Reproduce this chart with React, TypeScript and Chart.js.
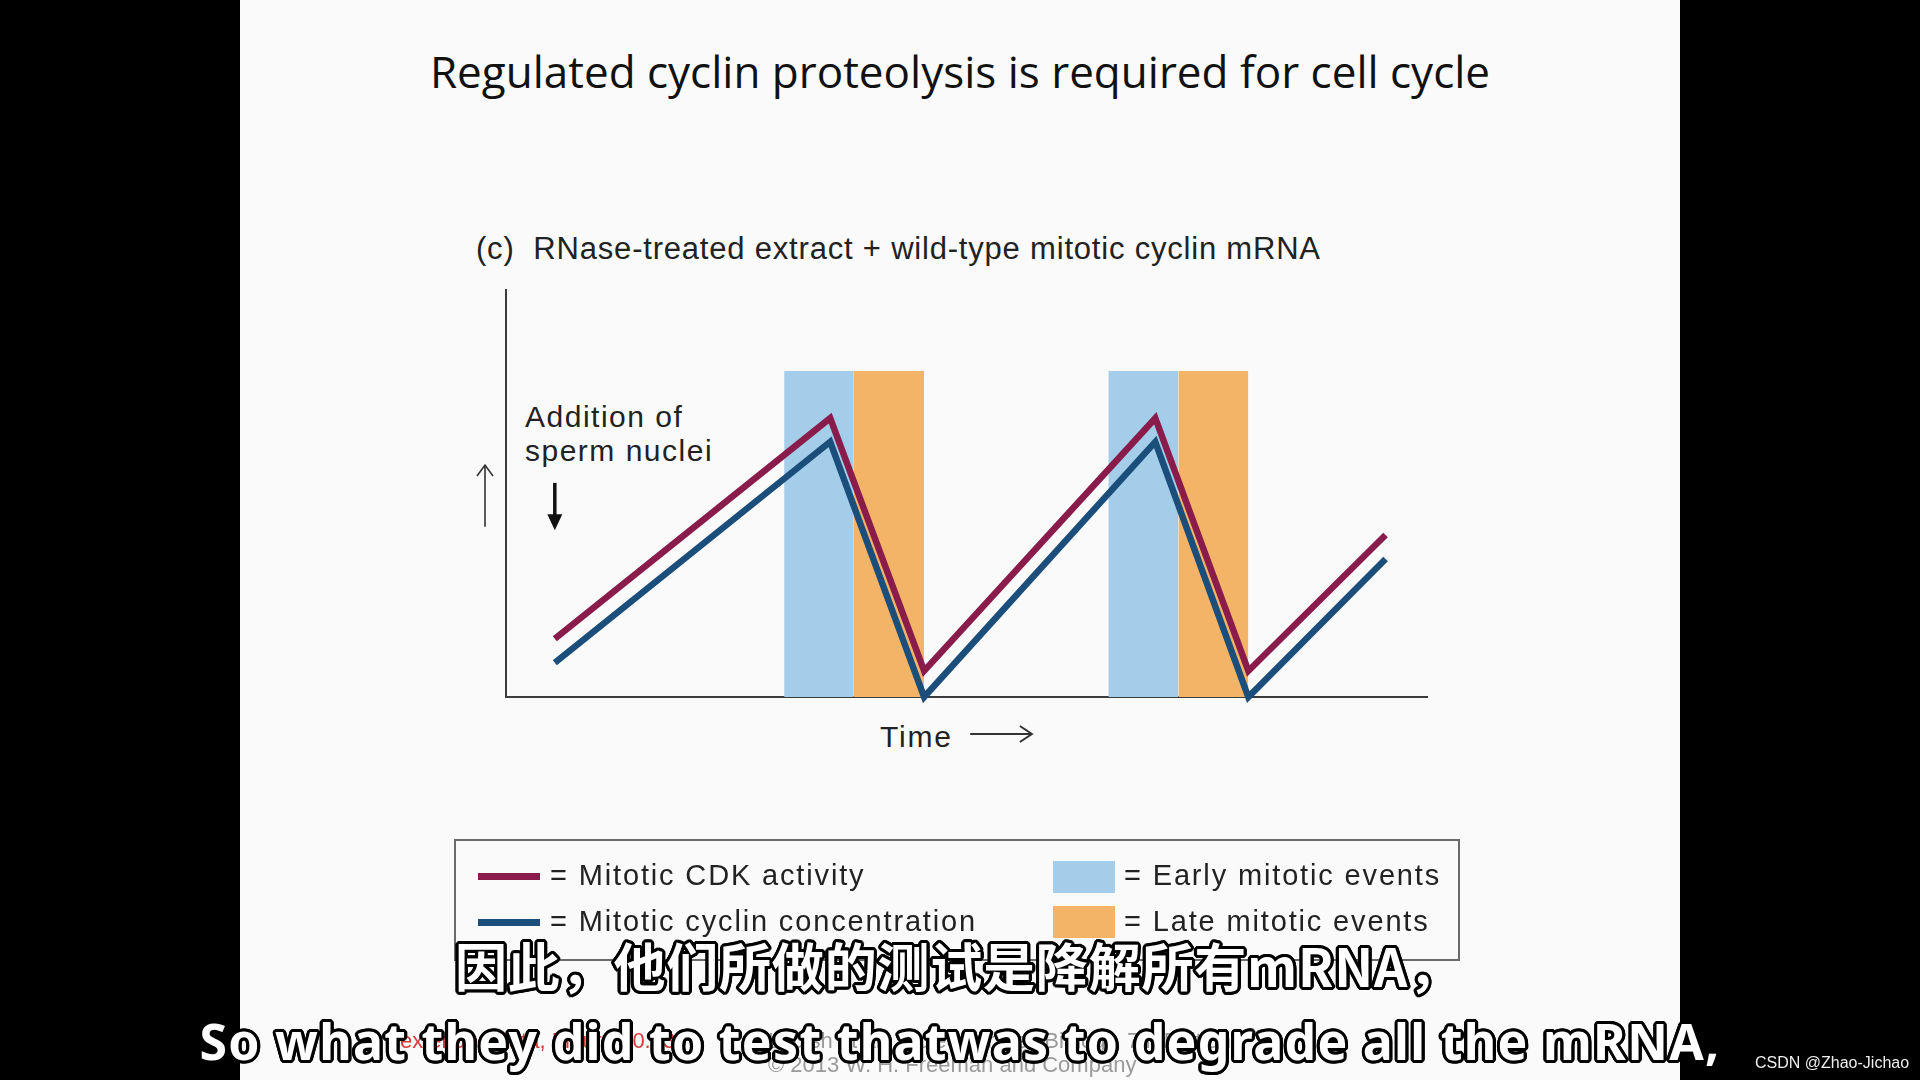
import React, { useEffect, useRef } from "react";
import { Chart, registerables } from "chart.js";

Chart.register(...registerables);

// ---- data ----
const timePoints = [5.3, 35.2, 45.4, 70.5, 80.6, 95.5];
const cdkActivity = [14.3, 68.5, 6.4, 68.5, 6.4, 39.8];
const cyclinConcentration = [8.4, 62.7, 0, 62.7, 0, 33.9];
const earlyMitoticEvents = [
  [30.2, 37.7],
  [65.4, 73.0],
];
const lateMitoticEvents = [
  [37.7, 45.4],
  [73.0, 80.6],
];
const eventLevel = 80.1;
const spermAdditionTime = 5.3;
const spermArrowRange = [52.6, 41.0];
const axisArrowRange = [41.8, 57.0];

const legendLines = ["= Mitotic CDK activity", "= Mitotic cyclin concentration"];
const legendBoxes = ["= Early mitotic events", "= Late mitotic events"];

const RED = "#8a1c4c";
const BLUE = "#1b4e7a";
const LIGHT_BLUE = "#a3cde9";
const ORANGE = "#f4b468";
const AXIS = "#3c3c3c";

const arrowPlugin = {
  id: "annotationArrows",
  afterDraw(chart: any) {
    const { ctx, chartArea, scales } = chart;
    const x = scales.x;
    const y = scales.y;
    ctx.save();
    // bold down arrow: addition of sperm nuclei
    const ax = x.getPixelForValue(spermAdditionTime);
    const aTop = y.getPixelForValue(spermArrowRange[0]);
    const aBot = y.getPixelForValue(spermArrowRange[1]);
    ctx.strokeStyle = "#111";
    ctx.fillStyle = "#111";
    ctx.lineWidth = 3.5;
    ctx.beginPath();
    ctx.moveTo(ax, aTop);
    ctx.lineTo(ax, aBot - 12);
    ctx.stroke();
    ctx.beginPath();
    ctx.moveTo(ax - 7.5, aBot - 16);
    ctx.lineTo(ax + 7.5, aBot - 16);
    ctx.lineTo(ax, aBot);
    ctx.closePath();
    ctx.fill();
    // thin up arrow left of the y axis
    const ux = chartArea.left - 21;
    const uBot = y.getPixelForValue(axisArrowRange[0]);
    const uTop = y.getPixelForValue(axisArrowRange[1]);
    ctx.strokeStyle = "#333";
    ctx.lineWidth = 1.6;
    ctx.beginPath();
    ctx.moveTo(ux, uBot);
    ctx.lineTo(ux, uTop);
    ctx.moveTo(ux - 8, uTop + 11);
    ctx.lineTo(ux, uTop);
    ctx.lineTo(ux + 8, uTop + 11);
    ctx.stroke();
    // time arrow below the x axis
    const tx0 = x.getPixelForValue(50.4);
    const tx1 = x.getPixelForValue(57.1);
    const ty = chartArea.bottom + 37;
    ctx.lineWidth = 2;
    ctx.beginPath();
    ctx.moveTo(tx0, ty);
    ctx.lineTo(tx1, ty);
    ctx.moveTo(tx1 - 12, ty - 8);
    ctx.lineTo(tx1, ty);
    ctx.lineTo(tx1 - 12, ty + 8);
    ctx.stroke();
    ctx.restore();
  },
};

function bandDataset(range: number[], color: string) {
  return {
    data: [
      { x: range[0], y: eventLevel },
      { x: range[1], y: eventLevel },
    ],
    fill: "origin",
    backgroundColor: color,
    borderWidth: 0,
    pointRadius: 0,
    order: 10,
  };
}

const outline = (w: number) => {
  const s: string[] = [];
  for (let i = 0; i < 16; i++) {
    const a = (i / 16) * Math.PI * 2;
    s.push(`${(Math.cos(a) * w).toFixed(2)}px ${(Math.sin(a) * w).toFixed(2)}px 0 #000`);
  }
  return s.join(",");
};

const abs = (o: React.CSSProperties): React.CSSProperties => ({
  position: "absolute",
  whiteSpace: "nowrap",
  margin: 0,
  ...o,
});

const HELV = '"Liberation Sans", Arial, sans-serif';

export default function App() {
  const canvasRef = useRef<HTMLCanvasElement | null>(null);

  useEffect(() => {
    const canvas = canvasRef.current;
    if (!canvas) return;
    const chart = new Chart(canvas, {
      type: "line",
      data: {
        datasets: [
          ...earlyMitoticEvents.map((r) => bandDataset(r, LIGHT_BLUE)),
          ...lateMitoticEvents.map((r) => bandDataset(r, ORANGE)),
          {
            label: "Mitotic CDK activity",
            data: timePoints.map((t, i) => ({ x: t, y: cdkActivity[i] })),
            borderColor: RED,
            borderWidth: 6.5,
            pointRadius: 0,
            fill: false,
            tension: 0,
            borderJoinStyle: "miter",
            borderCapStyle: "butt",
            order: 2,
          },
          {
            label: "Mitotic cyclin concentration",
            data: timePoints.map((t, i) => ({ x: t, y: cyclinConcentration[i] })),
            borderColor: BLUE,
            borderWidth: 6.5,
            pointRadius: 0,
            fill: false,
            tension: 0,
            borderJoinStyle: "miter",
            borderCapStyle: "butt",
            order: 1,
          },
        ] as any,
      },
      options: {
        animation: false,
        responsive: false,
        devicePixelRatio: 1,
        clip: false as any,
        layout: { padding: { left: 506, right: 493, top: 290, bottom: 383 } },
        plugins: { legend: { display: false }, tooltip: { enabled: false }, title: { display: false } },
        scales: {
          x: {
            type: "linear",
            min: 0,
            max: 100,
            grid: { display: false, drawTicks: false },
            ticks: { display: false },
            border: { display: true, color: AXIS, width: 2 },
          },
          y: {
            type: "linear",
            min: 0,
            max: 100,
            grid: { display: false, drawTicks: false },
            ticks: { display: false },
            border: { display: true, color: AXIS, width: 2 },
          },
        },
      },
      plugins: [arrowPlugin],
    });
    return () => chart.destroy();
  }, []);

  return (
    <div style={{ position: "fixed", left: 0, top: 0, width: 1920, height: 1080, background: "#000", overflow: "hidden" }}>
      <div style={abs({ left: 240, top: 0, width: 1440, height: 1080, background: "#fafafa" })} />
      <div
        style={abs({
          left: 0,
          width: 1920,
          top: 49,
          textAlign: "center",
          fontFamily: '"Open Sans", sans-serif',
          fontSize: 44,
          lineHeight: 1,
          color: "#111",
        })}
      >
        Regulated cyclin proteolysis is required for cell cycle
      </div>
      <div style={abs({ left: 476, top: 233, fontFamily: HELV, fontSize: 31, lineHeight: 1, color: "#222", letterSpacing: "0.8px" })}>
        (c)&nbsp; RNase-treated extract + wild-type mitotic cyclin mRNA
      </div>
      <div style={abs({ left: 525, top: 400, fontFamily: HELV, fontSize: 30, lineHeight: "34px", color: "#222", letterSpacing: "1.5px" })}>
        Addition of
        <br />
        sperm nuclei
      </div>
      <div style={abs({ left: 880, top: 722, fontFamily: HELV, fontSize: 30, lineHeight: 1, color: "#222", letterSpacing: "1.8px" })}>Time</div>
      <canvas ref={canvasRef} width={1920} height={1080} style={abs({ left: 0, top: 0, width: 1920, height: 1080 })} />

      {/* legend */}
      <div style={abs({ left: 454, top: 839, width: 1006, height: 122, border: "2px solid #6a6a6a", boxSizing: "border-box" })} />
      {legendLines.map((t, i) => (
        <React.Fragment key={t}>
          <div style={abs({ left: 478, top: 873 + i * 46, width: 62, height: 7, background: i === 0 ? RED : BLUE })} />
          <div style={abs({ left: 550, top: 861 + i * 46, fontFamily: HELV, fontSize: 29, lineHeight: 1, color: "#222", letterSpacing: "1.85px" })}>{t}</div>
        </React.Fragment>
      ))}
      {legendBoxes.map((t, i) => (
        <React.Fragment key={t}>
          <div style={abs({ left: 1053, top: 861 + i * 45, width: 62, height: 32, background: i === 0 ? LIGHT_BLUE : ORANGE })} />
          <div style={abs({ left: 1124, top: 861 + i * 46, fontFamily: HELV, fontSize: 29, lineHeight: 1, color: "#222", letterSpacing: "1.85px" })}>{t}</div>
        </React.Fragment>
      ))}

      {/* faded credits behind subtitles */}
      <div style={abs({ left: 400, top: 1030, fontFamily: HELV, fontSize: 22, lineHeight: 1, color: "#d83a3a" })}>
        extended data, Figure 20.13
      </div>
      <div style={abs({ left: 768, top: 1030, fontFamily: HELV, fontSize: 22, lineHeight: 1, color: "#9a9a9a" })}>
        Lodish et al., Molecular Cell Biology, 7th Edition
      </div>
      <div style={abs({ left: 768, top: 1054, fontFamily: HELV, fontSize: 22, lineHeight: 1, color: "#9a9a9a" })}>
        © 2013 W. H. Freeman and Company
      </div>

      {/* subtitles */}
      <div
        style={abs({
          left: 958,
          top: 939,
          transform: "translateX(-50%)",
          fontFamily: '"Noto Sans CJK SC", sans-serif',
          fontWeight: 700,
          fontSize: 52,
          lineHeight: 1,
          color: "#fff",
          letterSpacing: "0.8px",
          textShadow: outline(3.2),
        })}
      >
        因此，他们所做的测试是降解所有mRNA，
      </div>
      <div
        style={abs({
          left: 960,
          top: 1016,
          transform: "translateX(-50%)",
          fontFamily: '"Noto Sans", sans-serif',
          fontWeight: 700,
          fontSize: 50,
          lineHeight: 1,
          color: "#fff",
          letterSpacing: "1.3px",
          textShadow: outline(3.2),
        })}
      >
        So what they did to test thatwas to degrade all the mRNA,
      </div>
      <div style={abs({ left: 1755, top: 1055, fontFamily: HELV, fontSize: 16, lineHeight: 1, color: "#eee" })}>
        CSDN @Zhao-Jichao
      </div>
    </div>
  );
}
